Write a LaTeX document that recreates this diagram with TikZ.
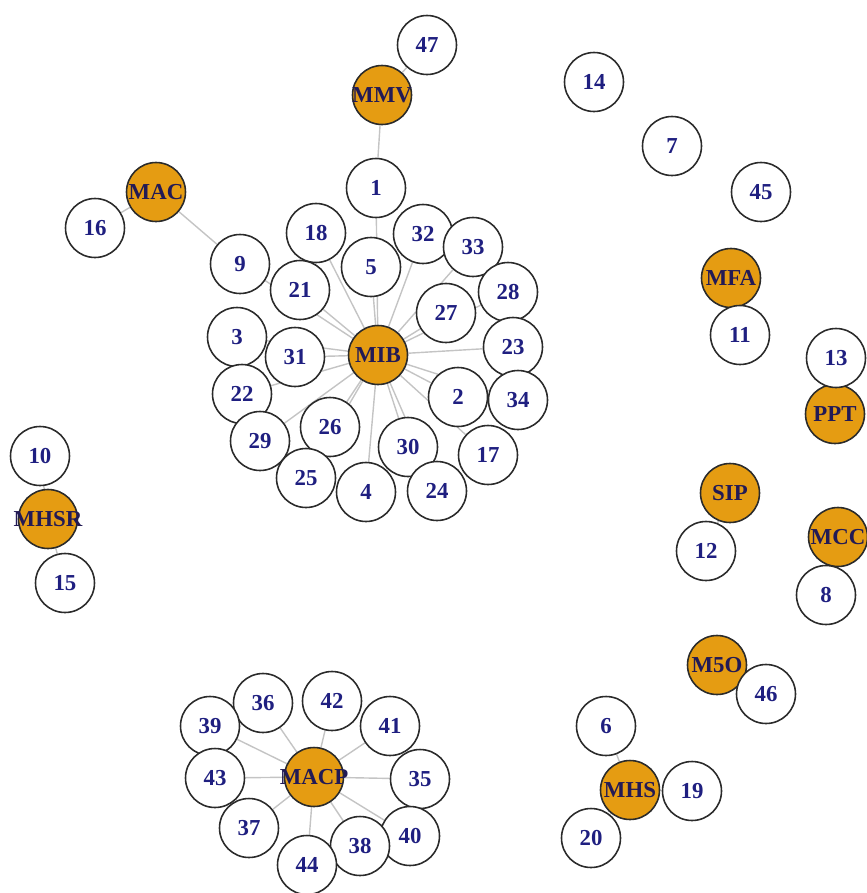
\documentclass[tikz,border=0pt]{standalone}
\usepackage{fontspec}
\setmainfont{Liberation Serif}
\usetikzlibrary{backgrounds}

\definecolor{borderColour}{HTML}{2B2B2B}
\definecolor{hubColour}{HTML}{E59C12}
\definecolor{labelColour}{HTML}{1F1F80}
\definecolor{hubLabelColour}{HTML}{221A55}
\definecolor{edgeColour}{HTML}{C4C4C4}

\tikzset{
    numNode/.style={circle, draw=borderColour, fill=white, line width=0.9pt,
        minimum size=1.18cm, inner sep=0pt, text=labelColour,
        font=\fontsize{13}{13}\selectfont\bfseries},
    hubNode/.style={numNode, fill=hubColour, text=hubLabelColour},
    edgeLine/.style={draw=edgeColour, line width=0.8pt}
}

\begin{document}
\begin{tikzpicture}[x=0.02cm, y=-0.02cm]
    % Fix page size to the reference
    \useasboundingbox (0,0) rectangle (866,893);

    % Hub nodes (label may run over the circle)
    \foreach \name/\x/\y in {MMV/382/95, MAC/156/192, MIB/378/355, MFA/731/278,
        PPT/835/414, MHSR/48/519, SIP/730/493, MCC/838/537, M5O/717/665,
        MHS/630/790, MACP/314/777}
        \node[hubNode] (\name) at (\x,\y) {\makebox[0pt]{\name}};

    % Numbered nodes
    \foreach \n/\x/\y in {47/427/45, 1/376/188, 14/594/82, 7/672/146, 45/761/192,
        16/95/228, 9/240/264, 18/316/233, 5/371/267, 32/423/234, 33/473/247,
        21/300/290, 28/508/292, 27/446/313, 3/237/337, 31/295/357, 23/513/347,
        22/242/394, 2/458/397, 34/518/400, 29/260/441, 26/330/427, 30/408/447,
        17/488/455, 25/306/478, 4/366/492, 24/437/491,
        11/740/335, 13/836/358, 10/40/456, 15/65/583, 12/706/551, 8/826/595,
        46/766/694, 6/606/726, 19/692/791, 20/591/838,
        36/263/703, 42/332/701, 41/390/726, 39/210/726, 43/215/778,
        35/420/779, 37/249/828, 40/410/836, 38/360/846, 44/307/865}
        \node[numNode] (n\n) at (\x,\y) {\n};

    % Draw edges behind the nodes
    \begin{pgfonlayer}{background}
        \foreach \t in {1,5,18,21,9,32,33,28,27,23,3,31,22,2,34,29,26,30,17,25,4,24}
            \draw[edgeLine] (MIB) -- (n\t);
        \foreach \t in {36,42,41,39,43,35,37,40,38,44}
            \draw[edgeLine] (MACP) -- (n\t);
        \foreach \h/\t in {MMV/1, MMV/47, MAC/16, MAC/9, MFA/11, PPT/13,
            MHSR/10, MHSR/15, SIP/12, MCC/8, M5O/46, MHS/6, MHS/19, MHS/20}
            \draw[edgeLine] (\h) -- (n\t);
    \end{pgfonlayer}

\end{tikzpicture}
\end{document}
